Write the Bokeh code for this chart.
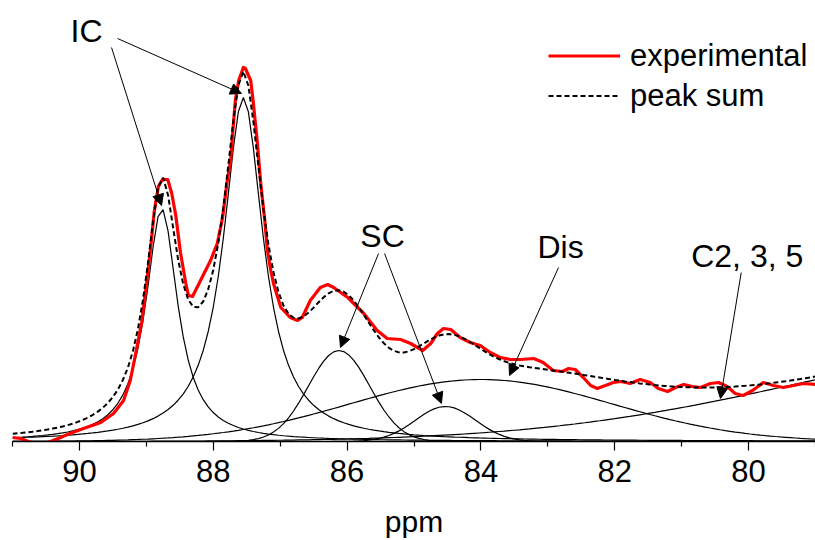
import numpy as np
from bokeh.plotting import figure
from bokeh.models import Range1d, Arrow, NormalHead, Label, Legend, LegendItem, FixedTicker
from bokeh.embed import file_html
from bokeh.resources import INLINE

# ---- experimental spectrum (ppm, intensity) ----
exp_ppm = [91.00, 90.88, 90.76, 90.61, 90.43, 90.28, 90.18, 89.94, 89.68, 89.49, 89.34, 89.24,
           89.15, 89.07, 89.00, 88.94, 88.88, 88.82, 88.76, 88.68, 88.62, 88.56, 88.49, 88.41,
           88.37, 88.31, 88.19, 88.04, 87.94, 87.86, 87.79, 87.74, 87.71, 87.67, 87.62, 87.55,
           87.52, 87.44, 87.40, 87.34, 87.29, 87.23, 87.19, 87.14, 87.10, 86.99, 86.85, 86.74,
           86.67, 86.55, 86.40, 86.29, 86.20, 85.99, 85.75, 85.55, 85.40, 85.20, 85.05, 84.87,
           84.75, 84.65, 84.56, 84.45, 84.31, 84.16, 84.01, 83.86, 83.71, 83.56, 83.41, 83.21,
           83.07, 82.92, 82.78, 82.69, 82.59, 82.47, 82.36, 82.26, 82.14, 82.02, 81.91, 81.77,
           81.62, 81.47, 81.35, 81.21, 81.09, 80.97, 80.84, 80.72, 80.57, 80.45, 80.32, 80.20,
           80.08, 79.94, 79.78, 79.63, 79.48, 79.33, 79.18, 79.00]
exp_int = [4, 3, 0, -3, 0, 4, 7, 13, 19, 28, 41, 61,
           91, 119, 156, 191, 231, 255, 262, 262, 248, 226, 189, 158,
           146, 145, 161, 181, 198, 224, 261, 281, 308, 341, 361, 374,
           373, 361, 338, 298, 258, 221, 191, 171, 158, 134, 124, 121,
           124, 141, 154, 157, 154, 144, 128, 111, 103, 102, 98, 91,
           98, 108, 113, 112, 104, 99, 96, 89, 84, 82, 82, 83,
           79, 71, 70, 73, 72, 64, 56, 53, 56, 59, 60, 58,
           62, 59, 53, 50, 54, 57, 55, 54, 58, 59, 55, 48,
           46, 51, 59, 56, 54, 56, 58, 57]

# ---- fitted components ----
peak_names = ["IC a", "IC b", "SC a", "SC b", "Dis", "C2, 3, 5"]
peak_shape = ["lorentz", "lorentz", "gauss", "gauss", "gauss", "gauss"]
peak_center = [88.77, 87.55, 86.12, 84.53, 84.0, 75.2]
peak_height = [233, 344, 91, 35, 62, 97]
peak_width = [0.29, 0.36, 0.46, 0.45, 1.96, 4.0]  # HWHM (lorentz) / sigma (gauss)

x_ticks = [90, 88, 86, 84, 82, 80]
x_minor = [91, 89, 87, 85, 83, 81, 79]

FONT = "Liberation Sans"

grid = np.linspace(91, 79, 161)


def component(shape, c, h, w):
    if shape == "lorentz":
        return h / (1.0 + ((grid - c) / w) ** 2)
    return h * np.exp(-((grid - c) ** 2) / (2.0 * w ** 2))


comps = [component(s, c, h, w) for s, c, h, w in zip(peak_shape, peak_center, peak_height, peak_width)]
peak_sum = np.sum(comps, axis=0)

p = figure(width=815, height=540, x_range=Range1d(91, 79), y_range=Range1d(0, 441),
           output_backend="svg", toolbar_location=None,
           min_border_left=12, min_border_right=0, min_border_top=0, min_border_bottom=99)

for comp in comps:
    p.line(grid, comp, line_color="black", line_width=1.2)

r_exp = p.line(exp_ppm, exp_int, line_color="#ff0000", line_width=3.2, line_join="round")
r_sum = p.line(grid, peak_sum, line_color="black", line_width=2, line_dash="5 3")

legend = Legend(items=[LegendItem(label="experimental", renderers=[r_exp]),
                       LegendItem(label="peak sum", renderers=[r_sum])],
                location=(536, 327), glyph_width=72, glyph_height=37, label_height=37,
                spacing=3, padding=0, margin=0, label_standoff=10,
                border_line_color=None, background_fill_alpha=0,
                label_text_font_size="31px", label_text_font=FONT, label_text_color="black")
p.add_layout(legend)

# annotations
labels = [("IC", 89.894, 411), ("SC", 85.47, 206), ("Dis", 82.81, 195), ("C2, 3, 5", 80.02, 186)]
for t, x, y in labels:
    p.add_layout(Label(x=x, y=y, text=t, text_align="center", text_baseline="middle",
                       text_font_size="32px", text_font=FONT, text_color="black"))

arrows = [(89.52, 394, 88.773, 236), (89.43, 403, 87.578, 348),
          (85.53, 188, 86.099, 94), (85.44, 188, 84.59, 38),
          (82.84, 174, 83.573, 66), (80.11, 169, 80.42, 43)]
for xs, ys, xe, ye in arrows:
    p.add_layout(Arrow(x_start=xs, y_start=ys, x_end=xe, y_end=ye, line_width=1, line_color="black",
                       end=NormalHead(size=11, fill_color="black", line_color="black", line_width=1)))

p.yaxis.visible = False
p.xgrid.visible = False
p.ygrid.visible = False
p.outline_line_color = None
p.background_fill_color = "white"
p.border_fill_color = "white"

ax = p.xaxis[0]
ax.ticker = FixedTicker(ticks=x_ticks, minor_ticks=x_minor)
ax.axis_label = "ppm"
ax.axis_label_text_font = FONT
ax.axis_label_text_font_style = "normal"
ax.axis_label_text_font_size = "30px"
ax.axis_label_text_color = "black"
ax.axis_label_standoff = 20
ax.major_label_text_font = FONT
ax.major_label_text_font_size = "31px"
ax.major_label_text_color = "black"
ax.major_label_standoff = 9
ax.major_tick_in = 0
ax.major_tick_out = 9
ax.minor_tick_in = 0
ax.minor_tick_out = 5
ax.axis_line_color = "black"
ax.axis_line_width = 1.5
ax.major_tick_line_width = 1.2
ax.minor_tick_line_width = 1.2

open("out.html", "w").write(file_html(p, INLINE))
